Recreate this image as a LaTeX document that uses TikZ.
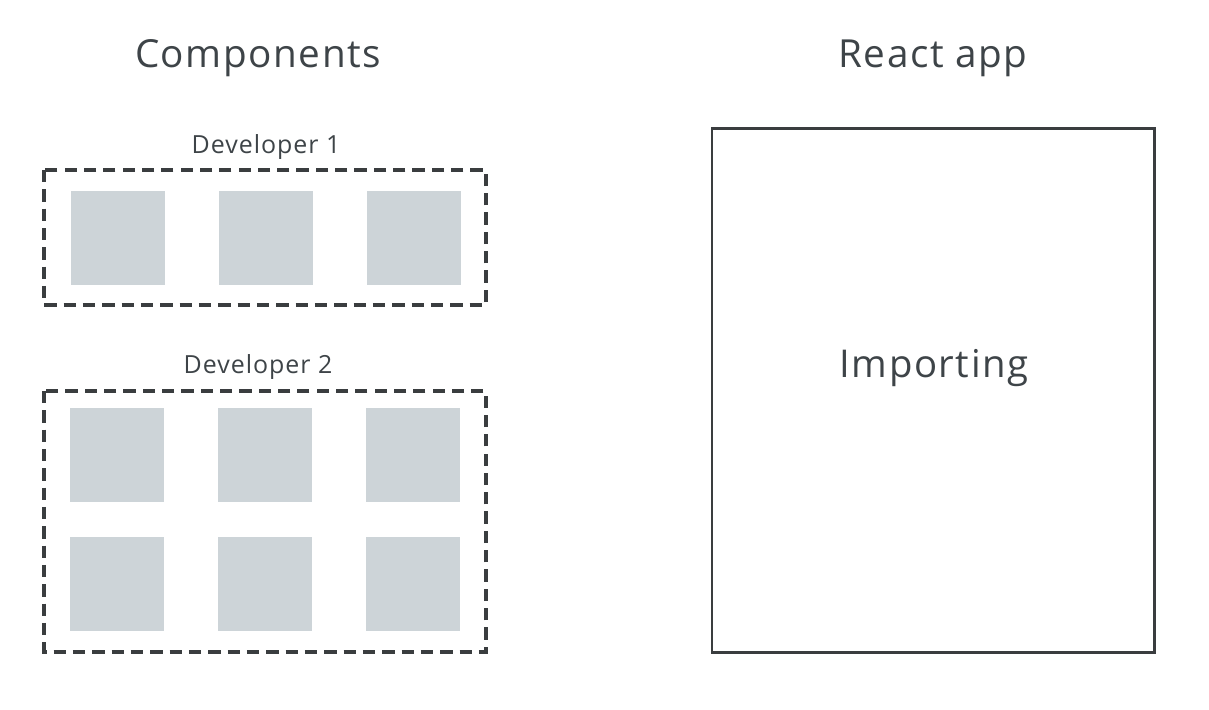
\documentclass[tikz,border=0pt]{standalone}
\usepackage{fontspec}
\setmainfont{Open Sans}[LetterSpace=4]
\usepackage{tikz}
\usepackage{color}
\definecolor{labelgray}{HTML}{3E4448}
\definecolor{compgray}{HTML}{CDD4D8}
\definecolor{framegray}{HTML}{3A3D3F}
\tikzset{
	heading/.style={text=labelgray, font=\fontsize{22}{26}\selectfont, anchor=base},
	devlabel/.style={text=labelgray, font=\fontsize{14.2}{17}\selectfont, anchor=base},
	devframe/.style={draw=framegray, line width=2pt, dash pattern=on 7pt off 4pt},
	appframe/.style={draw=framegray, line width=1.7pt},
	comp/.style={fill=compgray, draw=none, minimum size=1.88cm}
}
\begin{document}
\begin{tikzpicture}[scale=0.2]
				\tikzstyle{every node}+=[inner sep=0pt]
				\useasboundingbox [fill=white] (0,0) rectangle (120.9,-70.9);
				% titles
				\node [heading] (components) at (25.8,-6.75) {Components};
				\node [heading] (reactapp) at (93.3,-6.75) {React app};
				% developer 1
				\node [devlabel] (dev1) at (26.6,-15.3) {Developer 1};
				\draw [devframe] (4.4,-17) rectangle (48.6,-30.5);
				\foreach \i/\x in {1/11.8,2/26.6,3/41.4}
					\node [comp] (c1\i) at (\x,-23.75) {};
				% developer 2
				\node [devlabel] (dev2) at (25.8,-37.3) {Developer 2};
				\draw [devframe] (4.4,-39.1) rectangle (48.6,-65.2);
				\foreach \i/\x in {1/11.7,2/26.5,3/41.3}{
					\node [comp] (c2\i) at (\x,-45.5) {};
					\node [comp] (c3\i) at (\x,-58.35) {};
				}
				% react app
				\draw [appframe] (71.2,-12.8) rectangle (115.4,-65.2);
				\node [heading, font=\fontsize{21.8}{26}\selectfont] (importing) at (93.4,-37.7) {Importing};
				\end{tikzpicture}
\end{document}
